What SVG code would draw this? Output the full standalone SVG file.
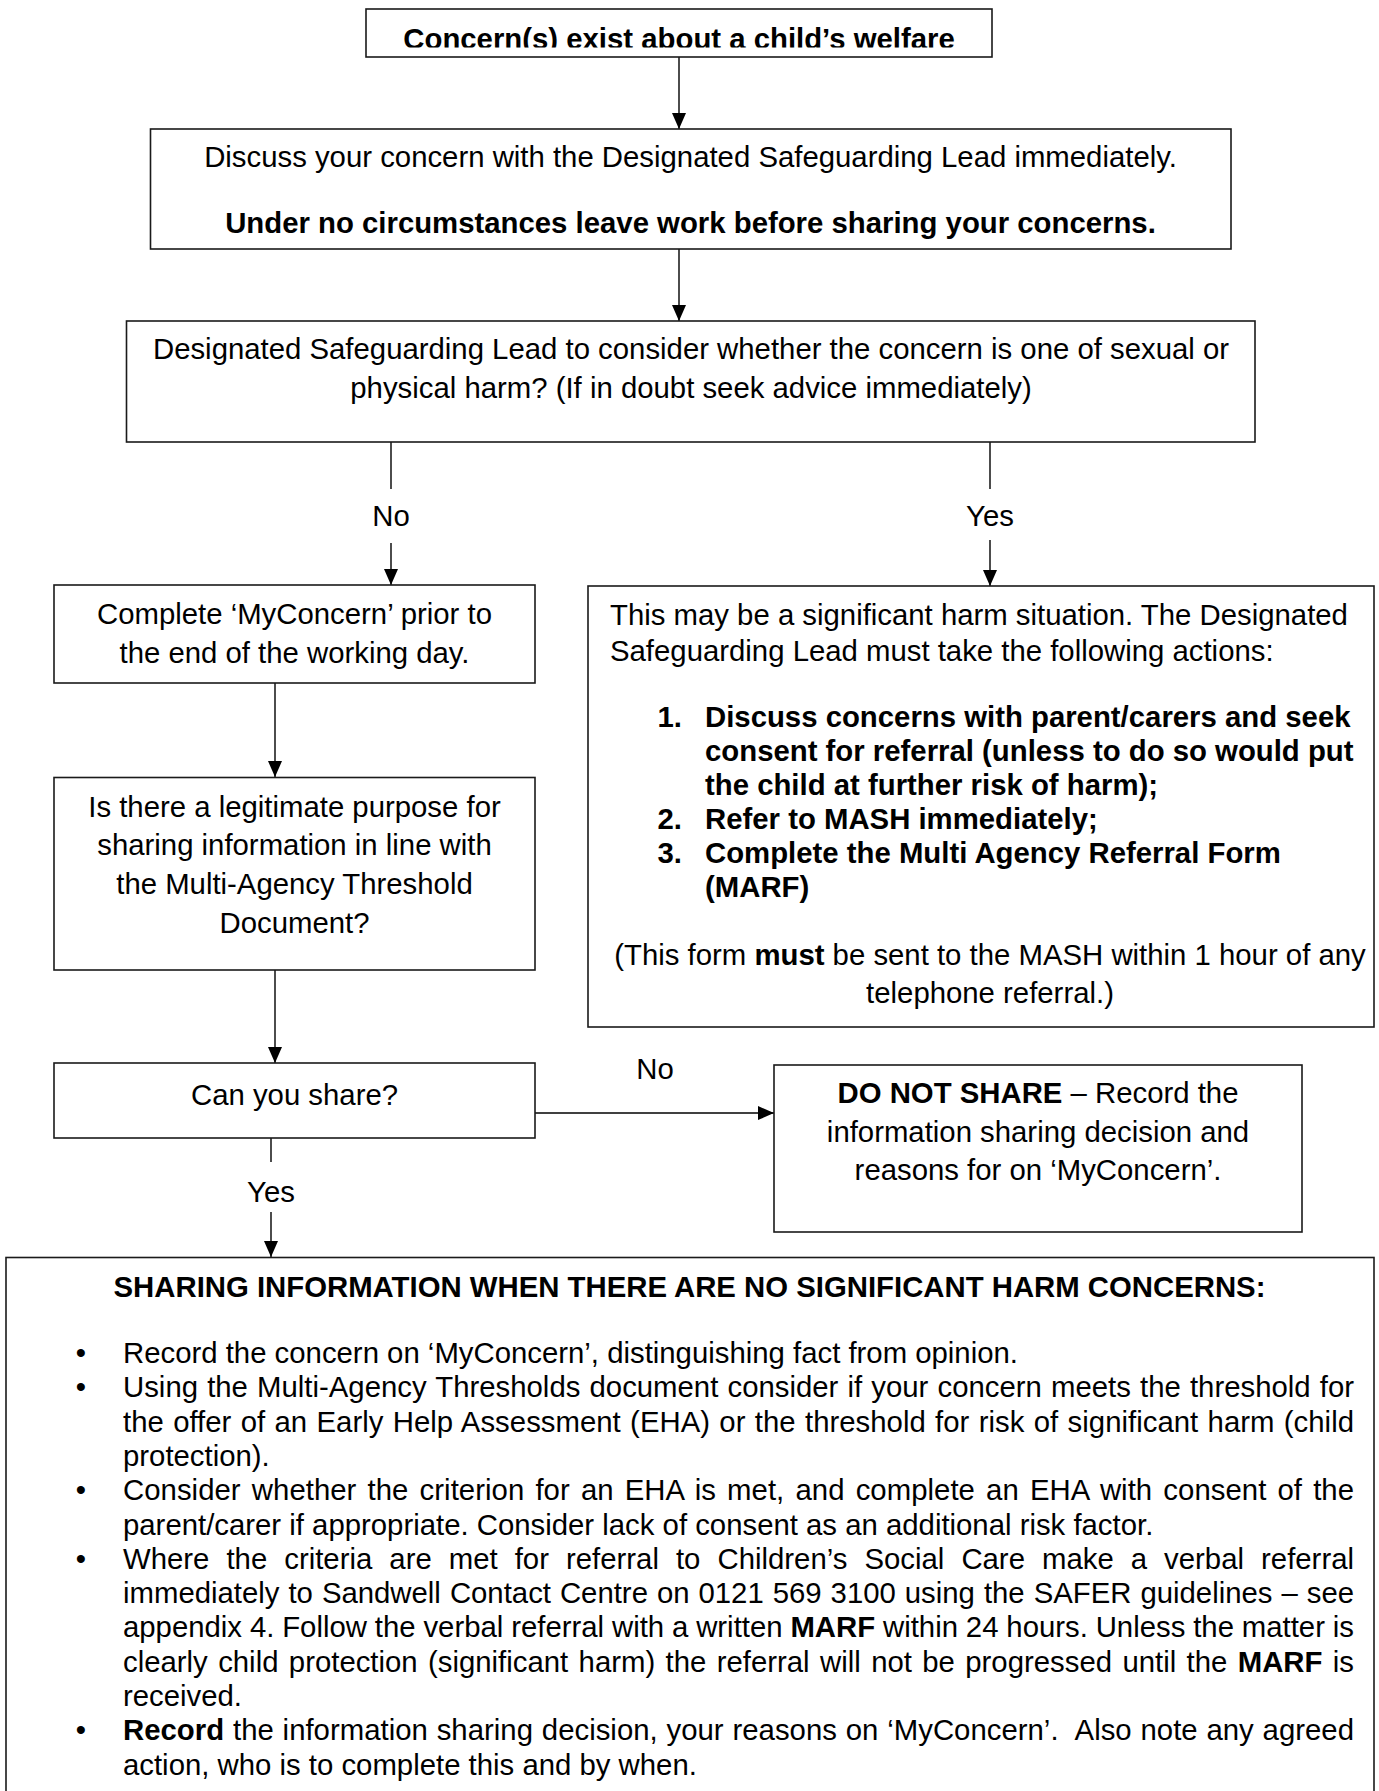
<svg xmlns="http://www.w3.org/2000/svg" width="1379" height="1791" viewBox="0 0 1379 1791">
<style>
text{font-family:"Liberation Sans",Arial,sans-serif;font-size:29.33px;fill:#000}
.b{font-weight:bold}
.c{text-anchor:middle}
.box{fill:#fff;stroke:#1a1a1a;stroke-width:1.6}
.ln{fill:none;stroke:#000;stroke-width:1.4}
</style>
<defs>
<marker id="ah" viewBox="0 0 16 14" refX="16" refY="7" markerWidth="16" markerHeight="14" markerUnits="userSpaceOnUse" orient="auto">
<path d="M0,0 L16,7 L0,14 z" fill="#000"/>
</marker>
<clipPath id="clip1"><rect x="366" y="9" width="626" height="38.5"/></clipPath>
</defs>
<rect width="1379" height="1791" fill="#fff"/>

<g id="connectors">
<path class="ln" d="M679,57 L679,129" marker-end="url(#ah)"/>
<path class="ln" d="M679,249 L679,321" marker-end="url(#ah)"/>
<path class="ln" d="M391,442 L391,489"/>
<path class="ln" d="M391,543 L391,585" marker-end="url(#ah)"/>
<text class="c" x="391" y="526">No</text>
<path class="ln" d="M990,442 L990,489"/>
<path class="ln" d="M990,540 L990,586" marker-end="url(#ah)"/>
<text class="c" x="990" y="526">Yes</text>
<path class="ln" d="M275,683 L275,777" marker-end="url(#ah)"/>
<path class="ln" d="M275,970 L275,1063" marker-end="url(#ah)"/>
<path class="ln" d="M535,1113 L774,1113" marker-end="url(#ah)"/>
<text class="c" x="655" y="1079">No</text>
<path class="ln" d="M271,1138 L271,1162"/>
<path class="ln" d="M271,1212 L271,1257" marker-end="url(#ah)"/>
<text class="c" x="271" y="1202">Yes</text>
</g>

<g id="n1">
<rect class="box" x="366" y="9" width="626" height="48"/>
<text class="c b" x="679" y="49" clip-path="url(#clip1)">Concern(s) exist about a child’s welfare</text>
</g>

<g id="n2">
<rect class="box" x="150.5" y="129" width="1080.5" height="120"/>
<text class="c" x="690.5" y="167">Discuss your concern with the Designated Safeguarding Lead immediately.</text>
<text class="c b" x="690.5" y="233">Under no circumstances leave work before sharing your concerns.</text>
</g>

<g id="n3">
<rect class="box" x="126.5" y="321" width="1128.5" height="121"/>
<text class="c" x="691" y="359">Designated Safeguarding Lead to consider whether the concern is one of sexual or</text>
<text class="c" x="691" y="398">physical harm? (If in doubt seek advice immediately)</text>
</g>

<g id="n4">
<rect class="box" x="54" y="585" width="481" height="98"/>
<text class="c" x="294.5" y="624">Complete ‘MyConcern’ prior to</text>
<text class="c" x="294.5" y="662.7">the end of the working day.</text>
</g>

<g id="n5">
<rect class="box" x="54" y="777.5" width="481" height="192.5"/>
<text class="c" x="294.5" y="816.6">Is there a legitimate purpose for</text>
<text class="c" x="294.5" y="855">sharing information in line with</text>
<text class="c" x="294.5" y="893.5">the Multi-Agency Threshold</text>
<text class="c" x="294.5" y="932.5">Document?</text>
</g>

<g id="n6">
<rect class="box" x="54" y="1063" width="481" height="75"/>
<text class="c" x="294.5" y="1105">Can you share?</text>
</g>

<g id="n7">
<rect class="box" x="588" y="586" width="786" height="441"/>
<text x="610" y="625">This may be a significant harm situation. The Designated</text>
<text x="610" y="661">Safeguarding Lead must take the following actions:</text>
<text class="b" x="657.5" y="727">1.</text>
<text class="b" x="705" y="727">Discuss concerns with parent/carers and seek</text>
<text class="b" x="705" y="761">consent for referral (unless to do so would put</text>
<text class="b" x="705" y="795">the child at further risk of harm);</text>
<text class="b" x="657.5" y="829">2.</text>
<text class="b" x="705" y="829">Refer to MASH immediately;</text>
<text class="b" x="657.5" y="863">3.</text>
<text class="b" x="705" y="863">Complete the Multi Agency Referral Form</text>
<text class="b" x="705" y="897">(MARF)</text>
<text class="c" x="990" y="965">(This form <tspan class="b">must</tspan> be sent to the MASH within 1 hour of any</text>
<text class="c" x="990" y="1003">telephone referral.)</text>
</g>

<g id="n8">
<rect class="box" x="774" y="1065" width="528" height="167"/>
<text class="c" x="1038" y="1103"><tspan class="b">DO NOT SHARE</tspan> – Record the</text>
<text class="c" x="1038" y="1141.7">information sharing decision and</text>
<text class="c" x="1038" y="1180.4">reasons for on ‘MyConcern’.</text>
</g>

<g id="n9">
<rect class="box" x="6" y="1257.5" width="1368" height="600"/>
<text class="c b" x="689.5" y="1297">SHARING INFORMATION WHEN THERE ARE NO SIGNIFICANT HARM CONCERNS:</text>
<text class="c" x="81" y="1363">•</text>
<text x="123" y="1363">Record the concern on ‘MyConcern’, distinguishing fact from opinion.</text>
<text class="c" x="81" y="1397.3">•</text>
<text x="123" y="1397.3" word-spacing="0.97" textLength="1231" lengthAdjust="spacing">Using the Multi-Agency Thresholds document consider if your concern meets the threshold for</text>
<text x="123" y="1431.6" word-spacing="1.14" textLength="1231" lengthAdjust="spacing">the offer of an Early Help Assessment (EHA) or the threshold for risk of significant harm (child</text>
<text x="123" y="1465.9">protection).</text>
<text class="c" x="81" y="1500.2">•</text>
<text x="123" y="1500.2" word-spacing="2.97" textLength="1231" lengthAdjust="spacing">Consider whether the criterion for an EHA is met, and complete an EHA with consent of the</text>
<text x="123" y="1534.5">parent/carer if appropriate. Consider lack of consent as an additional risk factor.</text>
<text class="c" x="81" y="1568.8">•</text>
<text x="123" y="1568.8" word-spacing="8.88" textLength="1231" lengthAdjust="spacing">Where the criteria are met for referral to Children’s Social Care make a verbal referral</text>
<text x="123" y="1603.1" word-spacing="0.83" textLength="1231" lengthAdjust="spacing">immediately to Sandwell Contact Centre on 0121 569 3100 using the SAFER guidelines – see</text>
<text x="123" y="1637.4" word-spacing="-0.28" textLength="1231" lengthAdjust="spacing">appendix 4. Follow the verbal referral with a written <tspan class="b">MARF</tspan> within 24 hours. Unless the matter is</text>
<text x="123" y="1671.7" word-spacing="2.24" textLength="1231" lengthAdjust="spacing">clearly child protection (significant harm) the referral will not be progressed until the <tspan class="b">MARF</tspan> is</text>
<text x="123" y="1706">received.</text>
<text class="c" x="81" y="1740.3">•</text>
<text x="123" y="1740.3" word-spacing="0.65" textLength="1231" lengthAdjust="spacing" xml:space="preserve"><tspan class="b">Record</tspan> the information sharing decision, your reasons on ‘MyConcern’.  Also note any agreed</text>
<text x="123" y="1774.6">action, who is to complete this and by when.</text>
</g>
</svg>
